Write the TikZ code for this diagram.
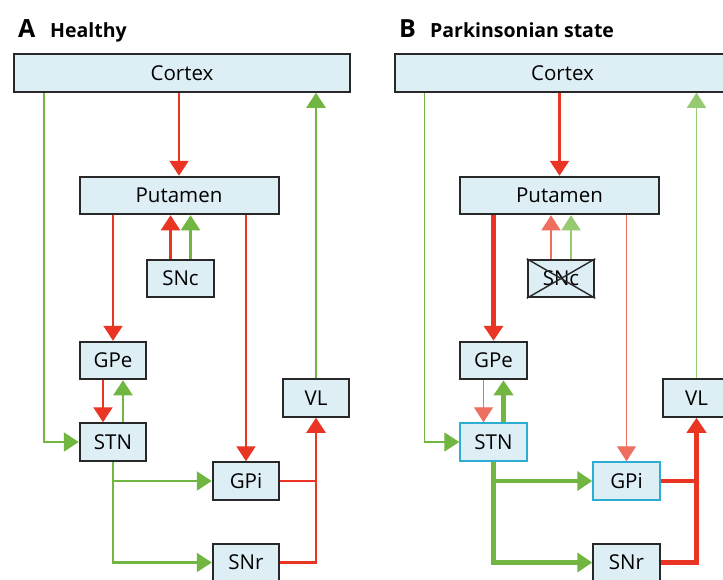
\documentclass[tikz,border=0pt]{standalone}
\usepackage{fontspec}
\setmainfont{Open Sans}
\usetikzlibrary{arrows.meta,calc}
\definecolor{boxfill}{RGB}{221,238,245}
\definecolor{boxline}{RGB}{40,40,40}
\definecolor{cyanline}{RGB}{45,172,212}
\definecolor{myred}{RGB}{234,52,36}
\definecolor{mygreen}{RGB}{112,182,64}
\definecolor{palegreen}{RGB}{150,202,112}
\definecolor{palered}{RGB}{238,110,95}
\tikzset{
  box/.style={draw=boxline, fill=boxfill, line width=2pt, minimum width=66.5pt,
    minimum height=37.5pt, inner sep=0pt, font=\fontsize{20.5}{23}\selectfont},
  hotbox/.style={box, draw=cyanline},
  redln/.style={draw=myred, line width=2.3pt},
  greenln/.style={draw=mygreen, line width=2.3pt},
  thinln/.style={line width=1.3pt},
  thickln/.style={line width=4.6pt},
  arr/.style={-{Triangle[width=19pt,length=15pt]}},
  paneltitle/.style={anchor=base west, inner sep=0pt, font=\bfseries\fontsize{19.5}{22}\selectfont},
  panelletter/.style={anchor=base west, inner sep=0pt, font=\bfseries\fontsize{25}{28}\selectfont},
  crossln/.style={draw=boxline, line width=1.4pt}
}
\begin{document}
\begin{tikzpicture}[x=1pt,y=-1pt]
\useasboundingbox (0,0) rectangle (723,579);
\clip (0,0) rectangle (723,579);
\fill[white] (0,0) rectangle (723,579);

% ---------------- Panel A ----------------
\node[panelletter] (a-letter) at (18,37) {A};
\node[paneltitle] (a-title) at (50,37) {Healthy};
\node[box, minimum width=336pt] (a-cortex) at (182,73) {Cortex};
\node[box, minimum width=199pt] (a-putamen) at (179,195.5) {Putamen};
\node[box] (a-snc) at (180.5,278.5) {SNc};
\node[box] (a-gpe) at (113,360.5) {GPe};
\node[box] (a-stn) at (113,442) {STN};
\node[box] (a-gpi) at (246,481) {GPi};
\node[box] (a-snr) at (246,562.5) {SNr};
\node[box] (a-vl) at (316,398) {VL};
\coordinate (a-l) at (44,0);
\coordinate (a-sncr) at ($(a-snc.north)+(-10,0)$);
\coordinate (a-sncg) at ($(a-snc.north)+(10,0)$);
\coordinate (a-gper) at ($(a-gpe.south)+(-10,0)$);
\coordinate (a-gpeg) at ($(a-gpe.south)+(10,0)$);

\draw[redln,arr] (a-putamen.north |- a-cortex.south) -- (a-putamen.north);
\draw[greenln,arr] (a-l |- a-cortex.south) |- (a-stn.west);
\draw[greenln,arr] (a-vl.north) -- (a-vl.north |- a-cortex.south);
\draw[redln,arr] (a-sncr) -- (a-sncr |- a-putamen.south);
\draw[greenln,arr] (a-sncg) -- (a-sncg |- a-putamen.south);
\draw[redln,arr] (a-gpe.north |- a-putamen.south) -- (a-gpe.north);
\draw[redln,arr] (a-gpi.north |- a-putamen.south) -- (a-gpi.north);
\draw[redln,arr] (a-gper) -- (a-gper |- a-stn.north);
\draw[greenln,arr] (a-gpeg |- a-stn.north) -- (a-gpeg);
\draw[greenln,arr] (a-stn.south) |- (a-snr.west);
\draw[greenln,arr] (a-stn.south |- a-gpi.west) -- (a-gpi.west);
\draw[redln] (a-gpi.east) -- (a-gpi.east -| a-vl.south);
\draw[redln,arr] (a-snr.east) -| (a-vl.south);

% ---------------- Panel B ----------------
\begin{scope}[xshift=380.5pt]
\node[panelletter] (b-letter) at (18.5,37) {B};
\node[paneltitle] (b-title) at (49.5,37) {Parkinsonian state};
\node[box, minimum width=336pt] (b-cortex) at (182,73) {Cortex};
\node[box, minimum width=199pt] (b-putamen) at (179,195.5) {Putamen};
\node[box] (b-snc) at (180.5,278.5) {SNc};
\node[box] (b-gpe) at (113,360.5) {GPe};
\node[hotbox] (b-stn) at (113,442) {STN};
\node[hotbox] (b-gpi) at (246,481) {GPi};
\node[box] (b-snr) at (246,562.5) {SNr};
\node[box] (b-vl) at (316,398) {VL};
\coordinate (b-l) at (44,0);
\coordinate (b-sncr) at ($(b-snc.north)+(-10,0)$);
\coordinate (b-sncg) at ($(b-snc.north)+(10,0)$);
\coordinate (b-gper) at ($(b-gpe.south)+(-10,0)$);
\coordinate (b-gpeg) at ($(b-gpe.south)+(10,0)$);
\end{scope}

\draw[crossln] (b-snc.north west) -- (b-snc.south east);
\draw[crossln] (b-snc.north east) -- (b-snc.south west);

\draw[redln,arr] (b-putamen.north |- b-cortex.south) -- (b-putamen.north);
\draw[greenln,line width=1.8pt,arr] (b-l |- b-cortex.south) |- (b-stn.west);
\draw[greenln,thinln,draw=palegreen,arr] (b-vl.north) -- (b-vl.north |- b-cortex.south);
\draw[redln,thinln,draw=palered,arr] (b-sncr) -- (b-sncr |- b-putamen.south);
\draw[greenln,thinln,draw=palegreen,arr] (b-sncg) -- (b-sncg |- b-putamen.south);
\draw[redln,thickln,arr] (b-gpe.north |- b-putamen.south) -- (b-gpe.north);
\draw[redln,thinln,draw=palered,arr] (b-gpi.north |- b-putamen.south) -- (b-gpi.north);
\draw[redln,thinln,draw=palered,arr] (b-gper) -- (b-gper |- b-stn.north);
\draw[greenln,thickln,arr] (b-gpeg |- b-stn.north) -- (b-gpeg);
\draw[greenln,thickln,arr] (b-stn.south) |- (b-snr.west);
\draw[greenln,thickln,arr] (b-stn.south |- b-gpi.west) -- (b-gpi.west);
\draw[redln,thickln] (b-gpi.east) -- (b-gpi.east -| b-vl.south);
\draw[redln,thickln,arr] (b-snr.east) -| (b-vl.south);
\end{tikzpicture}
\end{document}
